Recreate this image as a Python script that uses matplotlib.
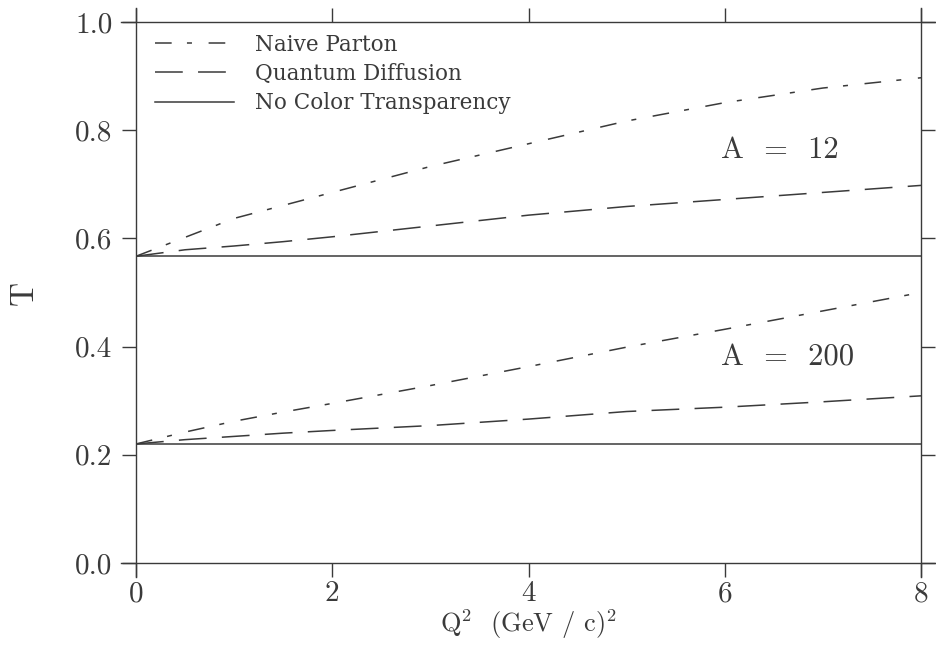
import matplotlib
matplotlib.use("Agg")
import matplotlib.pyplot as plt

# values
q2 = [0, 0.5, 1, 1.5, 2, 3, 4, 5, 6, 7, 8]

naive_12 = [0.567, 0.602, 0.637, 0.661, 0.685, 0.733, 0.775, 0.817, 0.851, 0.878, 0.897]
diff_12 = [0.567, 0.579, 0.586, 0.594, 0.603, 0.623, 0.643, 0.659, 0.672, 0.685, 0.698]
noct_12 = [0.567] * len(q2)

naive_200 = [0.220, 0.242, 0.262, 0.279, 0.295, 0.328, 0.363, 0.399, 0.432, 0.466, 0.500]
diff_200 = [0.220, 0.228, 0.234, 0.240, 0.245, 0.254, 0.266, 0.280, 0.288, 0.298, 0.309]
noct_200 = [0.220] * len(q2)

labels = ["Naive Parton", "Quantum Diffusion", "No Color Transparency"]
xticks = [0, 2, 4, 6, 8]
yticks = [0.0, 0.2, 0.4, 0.6, 0.8, 1.0]

ink = "#3a3a3a"
plt.rcParams["font.family"] = ["cmr10", "DejaVu Serif"]
plt.rcParams["mathtext.fontset"] = "cm"
plt.rcParams["axes.formatter.use_mathtext"] = True
plt.rcParams["lines.scale_dashes"] = False

fig = plt.figure(figsize=(9.36, 6.48), dpi=100)
ax = fig.add_axes([0.1453, 0.1312, 0.8387, 0.8348])

dashdot = (0, (12, 11, 3.6, 12))
dashed = (0, (20, 11))
lw = 1.1

ax.plot(q2, naive_12, color=ink, lw=lw, ls=dashdot, label=labels[0])
ax.plot(q2, diff_12, color=ink, lw=lw, ls=dashed, label=labels[1])
ax.plot(q2, noct_12, color=ink, lw=lw, ls="-", label=labels[2])
ax.plot(q2, naive_200, color=ink, lw=lw, ls=dashdot)
ax.plot(q2, diff_200, color=ink, lw=lw, ls=dashed)
ax.plot(q2, noct_200, color=ink, lw=lw, ls="-")

ax.set_xlim(0, 8)
ax.set_ylim(0, 1.0)
ax.set_xticks(xticks)
ax.set_yticks(yticks)
ax.set_xticklabels([str(t) for t in xticks])
ax.set_yticklabels([f"{t:.1f}" for t in yticks])
ax.tick_params(direction="out", length=10, width=1.0, color=ink, labelcolor=ink,
               labelsize=21, top=True, right=True)
ax.tick_params(axis="x", pad=3)
ax.tick_params(axis="y", pad=7)

# spines run past the corners like the original frame
for side in ["left", "right"]:
    ax.spines[side].set_bounds(-0.026, 1.026)
for side in ["top", "bottom"]:
    ax.spines[side].set_bounds(-0.15, 8.15)
for s in ax.spines.values():
    s.set_color(ink)
    s.set_linewidth(1.0)

ax.set_xlabel(r"Q$^2$  (GeV / c)$^2$", fontsize=19, color=ink, labelpad=0)
ax.set_ylabel("T", fontsize=24, color=ink, labelpad=26)

ax.text(5.96, 0.763, "A  =  12", fontsize=22, color=ink, va="center")
ax.text(5.96, 0.379, "A  =  200", fontsize=22, color=ink, va="center")

leg = ax.legend(loc="upper left", bbox_to_anchor=(0.0, 1.014), frameon=False,
                prop={"family": "DejaVu Serif", "size": 15.5}, handlelength=3.65,
                handletextpad=1.0, labelspacing=0.33, borderaxespad=0.6,
                borderpad=0.3)
for t in leg.get_texts():
    t.set_color(ink)

fig.savefig("out.png", dpi=100)
